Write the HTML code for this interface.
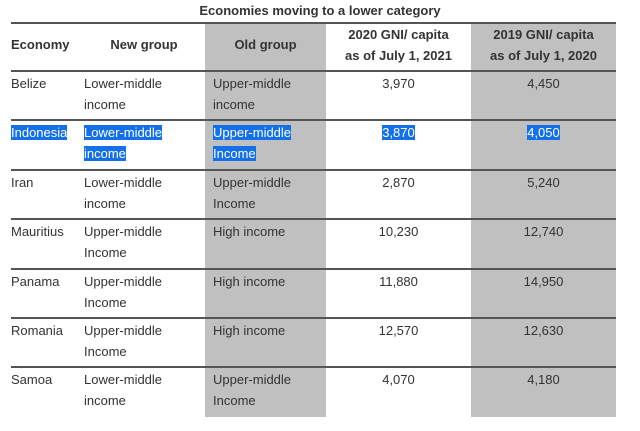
<!DOCTYPE html>
<html><head><meta charset="utf-8"><style>
body{margin:0;width:640px;height:431px;background:#fff;font-family:"Liberation Sans",sans-serif;color:#333;overflow:hidden;position:relative}
.a{position:absolute}
.g{position:absolute;background:#c0c0c0;top:23px;height:394px}
.ln{position:absolute;left:11px;width:605px;height:2px;background:#555}
.t{position:absolute;font-size:13px;line-height:21px;white-space:nowrap}
.h{font-weight:bold;text-align:center}
.c{text-align:center}
.s{background:#1470e8;color:#fff}
</style></head><body>
<div class="a" style="left:0;width:640px;top:3px;text-align:center;font-weight:bold;font-size:13px">Economies moving to a lower category</div>
<div class="g" style="left:205px;width:121px"></div>
<div class="g" style="left:471px;width:145px"></div>
<div class="ln" style="top:22px"></div>
<div class="t h" style="left:11px;top:34px">Economy</div>
<div class="t h" style="left:84px;width:120px;top:34px">New group</div>
<div class="t h" style="left:205px;width:121px;top:34px">Old group</div>
<div class="t h" style="left:326px;width:145px;top:24px">2020 GNI/ capita<br>as of July 1, 2021</div>
<div class="t h" style="left:471px;width:145px;top:24px">2019 GNI/ capita<br>as of July 1, 2020</div>
<div id="rows"></div>
<script>
const economies=["Belize","Indonesia","Iran","Mauritius","Panama","Romania","Samoa"];
const newGroup=[["Lower-middle","income"],["Lower-middle","income"],["Lower-middle","income"],["Upper-middle","Income"],["Upper-middle","Income"],["Upper-middle","Income"],["Lower-middle","income"]];
const oldGroup=[["Upper-middle","income"],["Upper-middle","Income"],["Upper-middle","Income"],["High income"],["High income"],["High income"],["Upper-middle","Income"]];
const gni2020=["3,970","3,870","2,870","10,230","11,880","12,570","4,070"];
const gni2019=["4,450","4,050","5,240","12,740","14,950","12,630","4,180"];
const sel=1;
const root=document.getElementById('rows');
economies.forEach((e,i)=>{
  const top=71+i*49.4;
  const ln=document.createElement('div');ln.className='ln';ln.style.top=(top-1)+'px';
  
  
  root.appendChild(ln);
  const s=i===sel;
  const w=t=>s?'<span class="s">'+t+'</span>':t;
  const cells=[[11,0,w(e),'economy-cell'],[84,0,newGroup[i].map(w).join('<br>'),'new-group-cell'],[213,0,oldGroup[i].map(w).join('<br>'),'old-group-cell'],[326,145,w(gni2020[i]),'gni-2020-cell'],[471,145,w(gni2019[i]),'gni-2019-cell']];
  cells.forEach(c=>{
    const d=document.createElement('div');d.className='t'+(c[1]?' c':'');
    d.style.left=c[0]+'px';d.style.top=(top+2)+'px';if(c[1])d.style.width=c[1]+'px';
    d.innerHTML=c[2];
    
    
    root.appendChild(d);
  });
});
</script>
</body></html>
